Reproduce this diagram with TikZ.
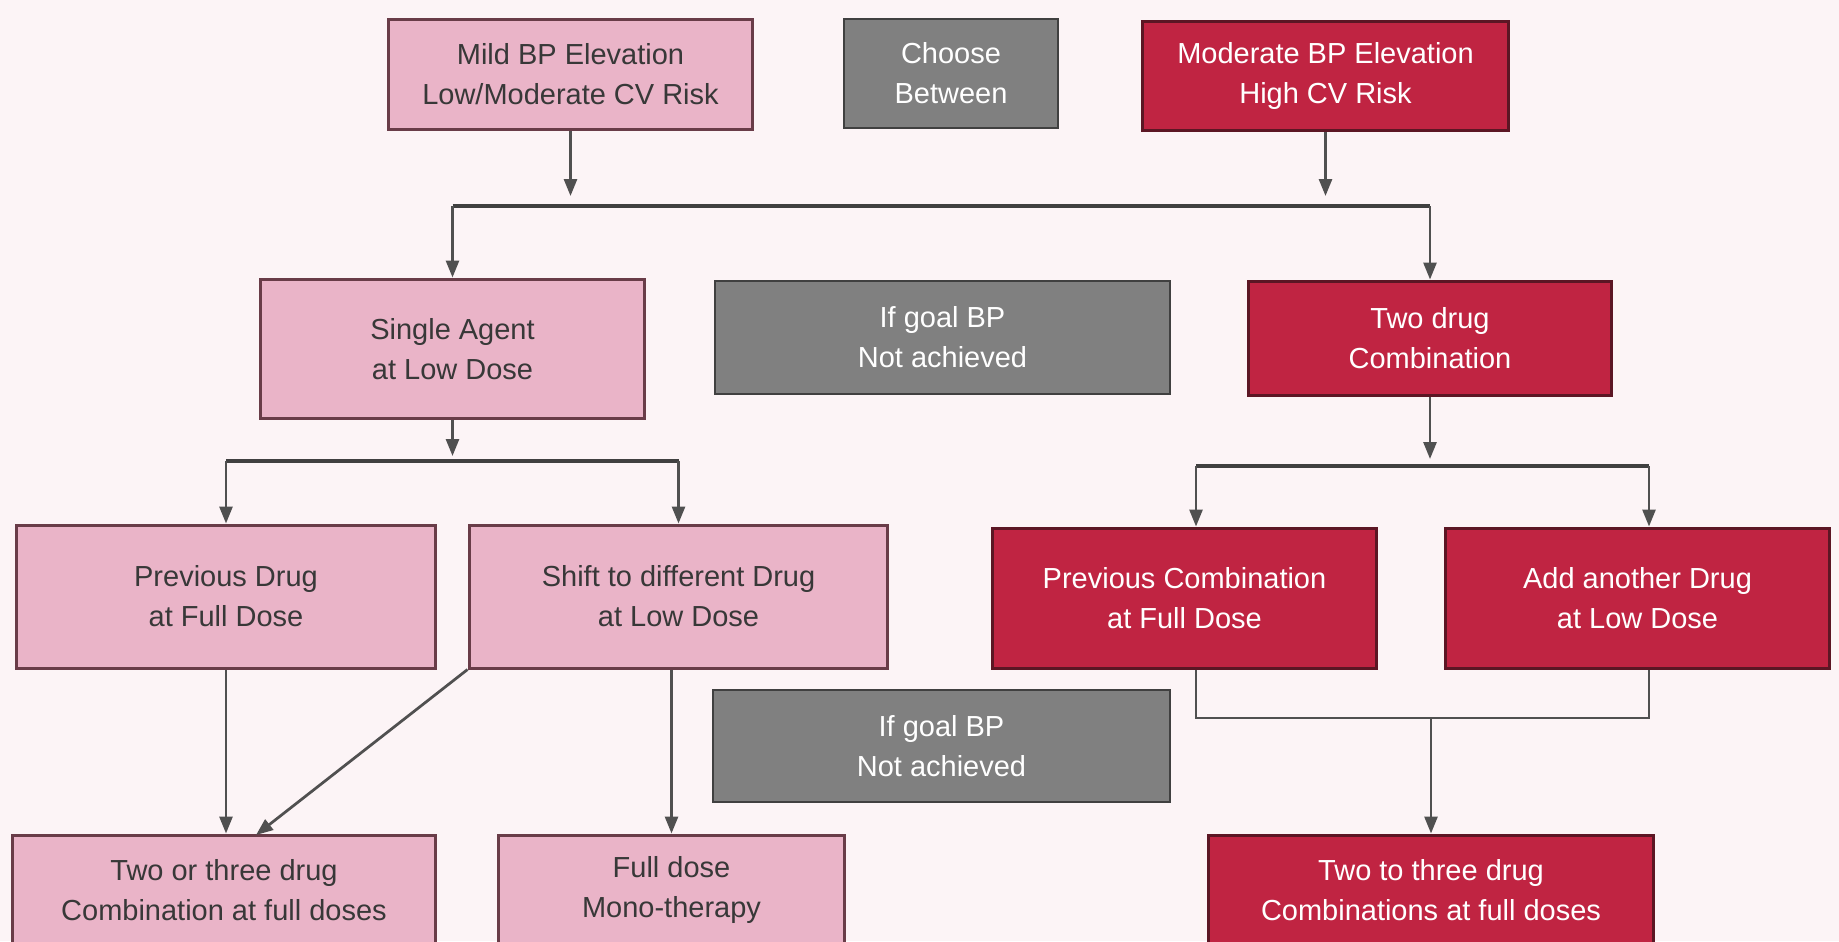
\documentclass[tikz,border=0pt]{standalone}
\usepackage{fontspec}
\setmainfont{Liberation Sans}
\usetikzlibrary{arrows.meta}
\definecolor{paperPink}{RGB}{252,244,246}
\definecolor{pinkFill}{RGB}{234,180,200}
\definecolor{pinkEdge}{RGB}{105,60,72}
\definecolor{redFill}{RGB}{192,36,66}
\definecolor{redEdge}{RGB}{92,22,36}
\definecolor{grayFill}{RGB}{128,128,128}
\definecolor{wireGray}{RGB}{80,80,80}
\newcommand{\lowRiskPath}{%%
  %% Single agent splits into two options.
  \draw[arrowStyle] (single.south) -- (singleTip);
  \draw[busStyle] (midBusL) -- (midBusR);
  \draw[arrowStyle] (midBusL) -- (prevDrug.north);
  \draw[arrowStyle] (midBusR) -- (shiftDrug.north);
  %% Towards the bottom row.
  \draw[arrowStyle] (prevDrug.south) -- (prevDrug.south |- twoOrThree.north);
  \draw[arrowStyle] (shiftDrug.south west) -- (diagTip);
  \draw[arrowStyle] (fullDose.north |- shiftDrug.south) -- (fullDose.north);
}
\newcommand{\highRiskPath}{%%
  %% Two drug combination splits into two options.
  \draw[arrowStyle] (twoDrug.south) -- (twoTip);
  \draw[busStyle] (rightBusL) -- (rightBusR);
  \draw[arrowStyle] (rightBusL) -- (rightBusL |- prevComb.north);
  \draw[arrowStyle] (rightBusR) -- (rightBusR |- addDrug.north);
  %% Both options join again.
  \draw[lineStyle] (rightBusL |- prevComb.south) -- (joinL) -- (joinR) -- (joinR |- addDrug.south);
  \draw[arrowStyle] (joinM) -- (twoToThree.north);
}

\begin{document}
\begin{tikzpicture}[%%
  x=0.02cm,y=-0.02cm,%%
  every node/.style={font=\fontsize{16.5}{22.7}\selectfont,align=center,inner sep=0pt},%%
  lightBox/.style={draw=pinkEdge,fill=pinkFill,line width=0.06cm,text=black!78},%%
  darkBox/.style={draw=redEdge,fill=redFill,line width=0.06cm,text=white},%%
  grayBox/.style={draw=black!75,fill=grayFill,line width=0.04cm,text=white},%%
  lineStyle/.style={-,draw=wireGray,line width=0.055cm},%%
  busStyle/.style={-,draw=black!75,line width=0.065cm},%%
  arrowStyle/.style={-{Triangle[length=0.34cm,width=0.26cm]},draw=wireGray,line width=0.055cm},%%
]
%%
%% The page.
\fill[paperPink] (0,0) rectangle (1839,941);
\useasboundingbox (0,0) rectangle (1839,941);
%%
%% Top row.
\node[lightBox,minimum width=7.30cm,minimum height=2.22cm] (mild) at (570.5,74.5) {Mild BP Elevation\\Low/Moderate CV Risk};
\node[grayBox,minimum width=4.28cm,minimum height=2.18cm] (choose) at (951,73.5) {Choose\\Between};
\node[darkBox,minimum width=7.34cm,minimum height=2.20cm] (moderate) at (1325.5,76) {Moderate BP Elevation\\High CV Risk};
%% Second row.
\node[lightBox,minimum width=7.70cm,minimum height=2.80cm] (single) at (452.5,349) {Single Agent\\at Low Dose};
\node[grayBox,minimum width=9.10cm,minimum height=2.26cm] (goalA) at (942.5,337.5) {If goal BP\\Not achieved};
\node[darkBox,minimum width=7.26cm,minimum height=2.28cm] (twoDrug) at (1430,338) {Two drug\\Combination};
%% Third row.
\node[lightBox,minimum width=8.40cm,minimum height=2.86cm] (prevDrug) at (226,596.5) {Previous Drug\\at Full Dose};
\node[lightBox,minimum width=8.38cm,minimum height=2.86cm] (shiftDrug) at (678.5,596.5) {Shift to different Drug\\at Low Dose};
\node[darkBox,minimum width=7.70cm,minimum height=2.80cm] (prevComb) at (1184.5,598) {Previous Combination\\at Full Dose};
\node[darkBox,minimum width=7.70cm,minimum height=2.80cm] (addDrug) at (1637.5,598) {Add another Drug\\at Low Dose};
\node[grayBox,minimum width=9.14cm,minimum height=2.24cm] (goalB) at (941.5,746) {If goal BP\\Not achieved};
%% Bottom row, cut by the page.
\node[lightBox,minimum width=8.48cm,minimum height=2.20cm] (twoOrThree) at (224,890) {Two or three drug\\Combination at full doses};
\node[lightBox,minimum width=6.94cm,minimum height=2.20cm] (fullDose) at (671.5,890) {Full dose\\Mono-therapy};
\node[darkBox,minimum width=8.92cm,minimum height=2.20cm] (twoToThree) at (1431,890) {Two to three drug\\Combinations at full doses};
%%
%% Junction points.
\coordinate (mildTip) at (570.5,196);
\coordinate (modTip) at (1325.5,196);
\coordinate (topBusL) at (452.5,206);
\coordinate (topBusR) at (1430,206);
\coordinate (singleTip) at (452.5,456);
\coordinate (midBusL) at (226,461);
\coordinate (midBusR) at (678.5,461);
\coordinate (diagTip) at (256,835);
\coordinate (twoTip) at (1430,459);
\coordinate (rightBusL) at (1196,466);
\coordinate (rightBusR) at (1649,466);
\coordinate (joinL) at (1196,718);
\coordinate (joinR) at (1649,718);
\coordinate (joinM) at (1431,718);
%%
%% Both risk levels lead to the common bar.
\draw[arrowStyle] (mild.south) -- (mildTip);
\draw[arrowStyle] (moderate.south) -- (modTip);
\draw[busStyle] (topBusL) -- (topBusR);
\draw[arrowStyle] (topBusL) -- (single.north);
\draw[arrowStyle] (topBusR) -- (twoDrug.north);
%%
\lowRiskPath
\highRiskPath
\end{tikzpicture}
\end{document}
